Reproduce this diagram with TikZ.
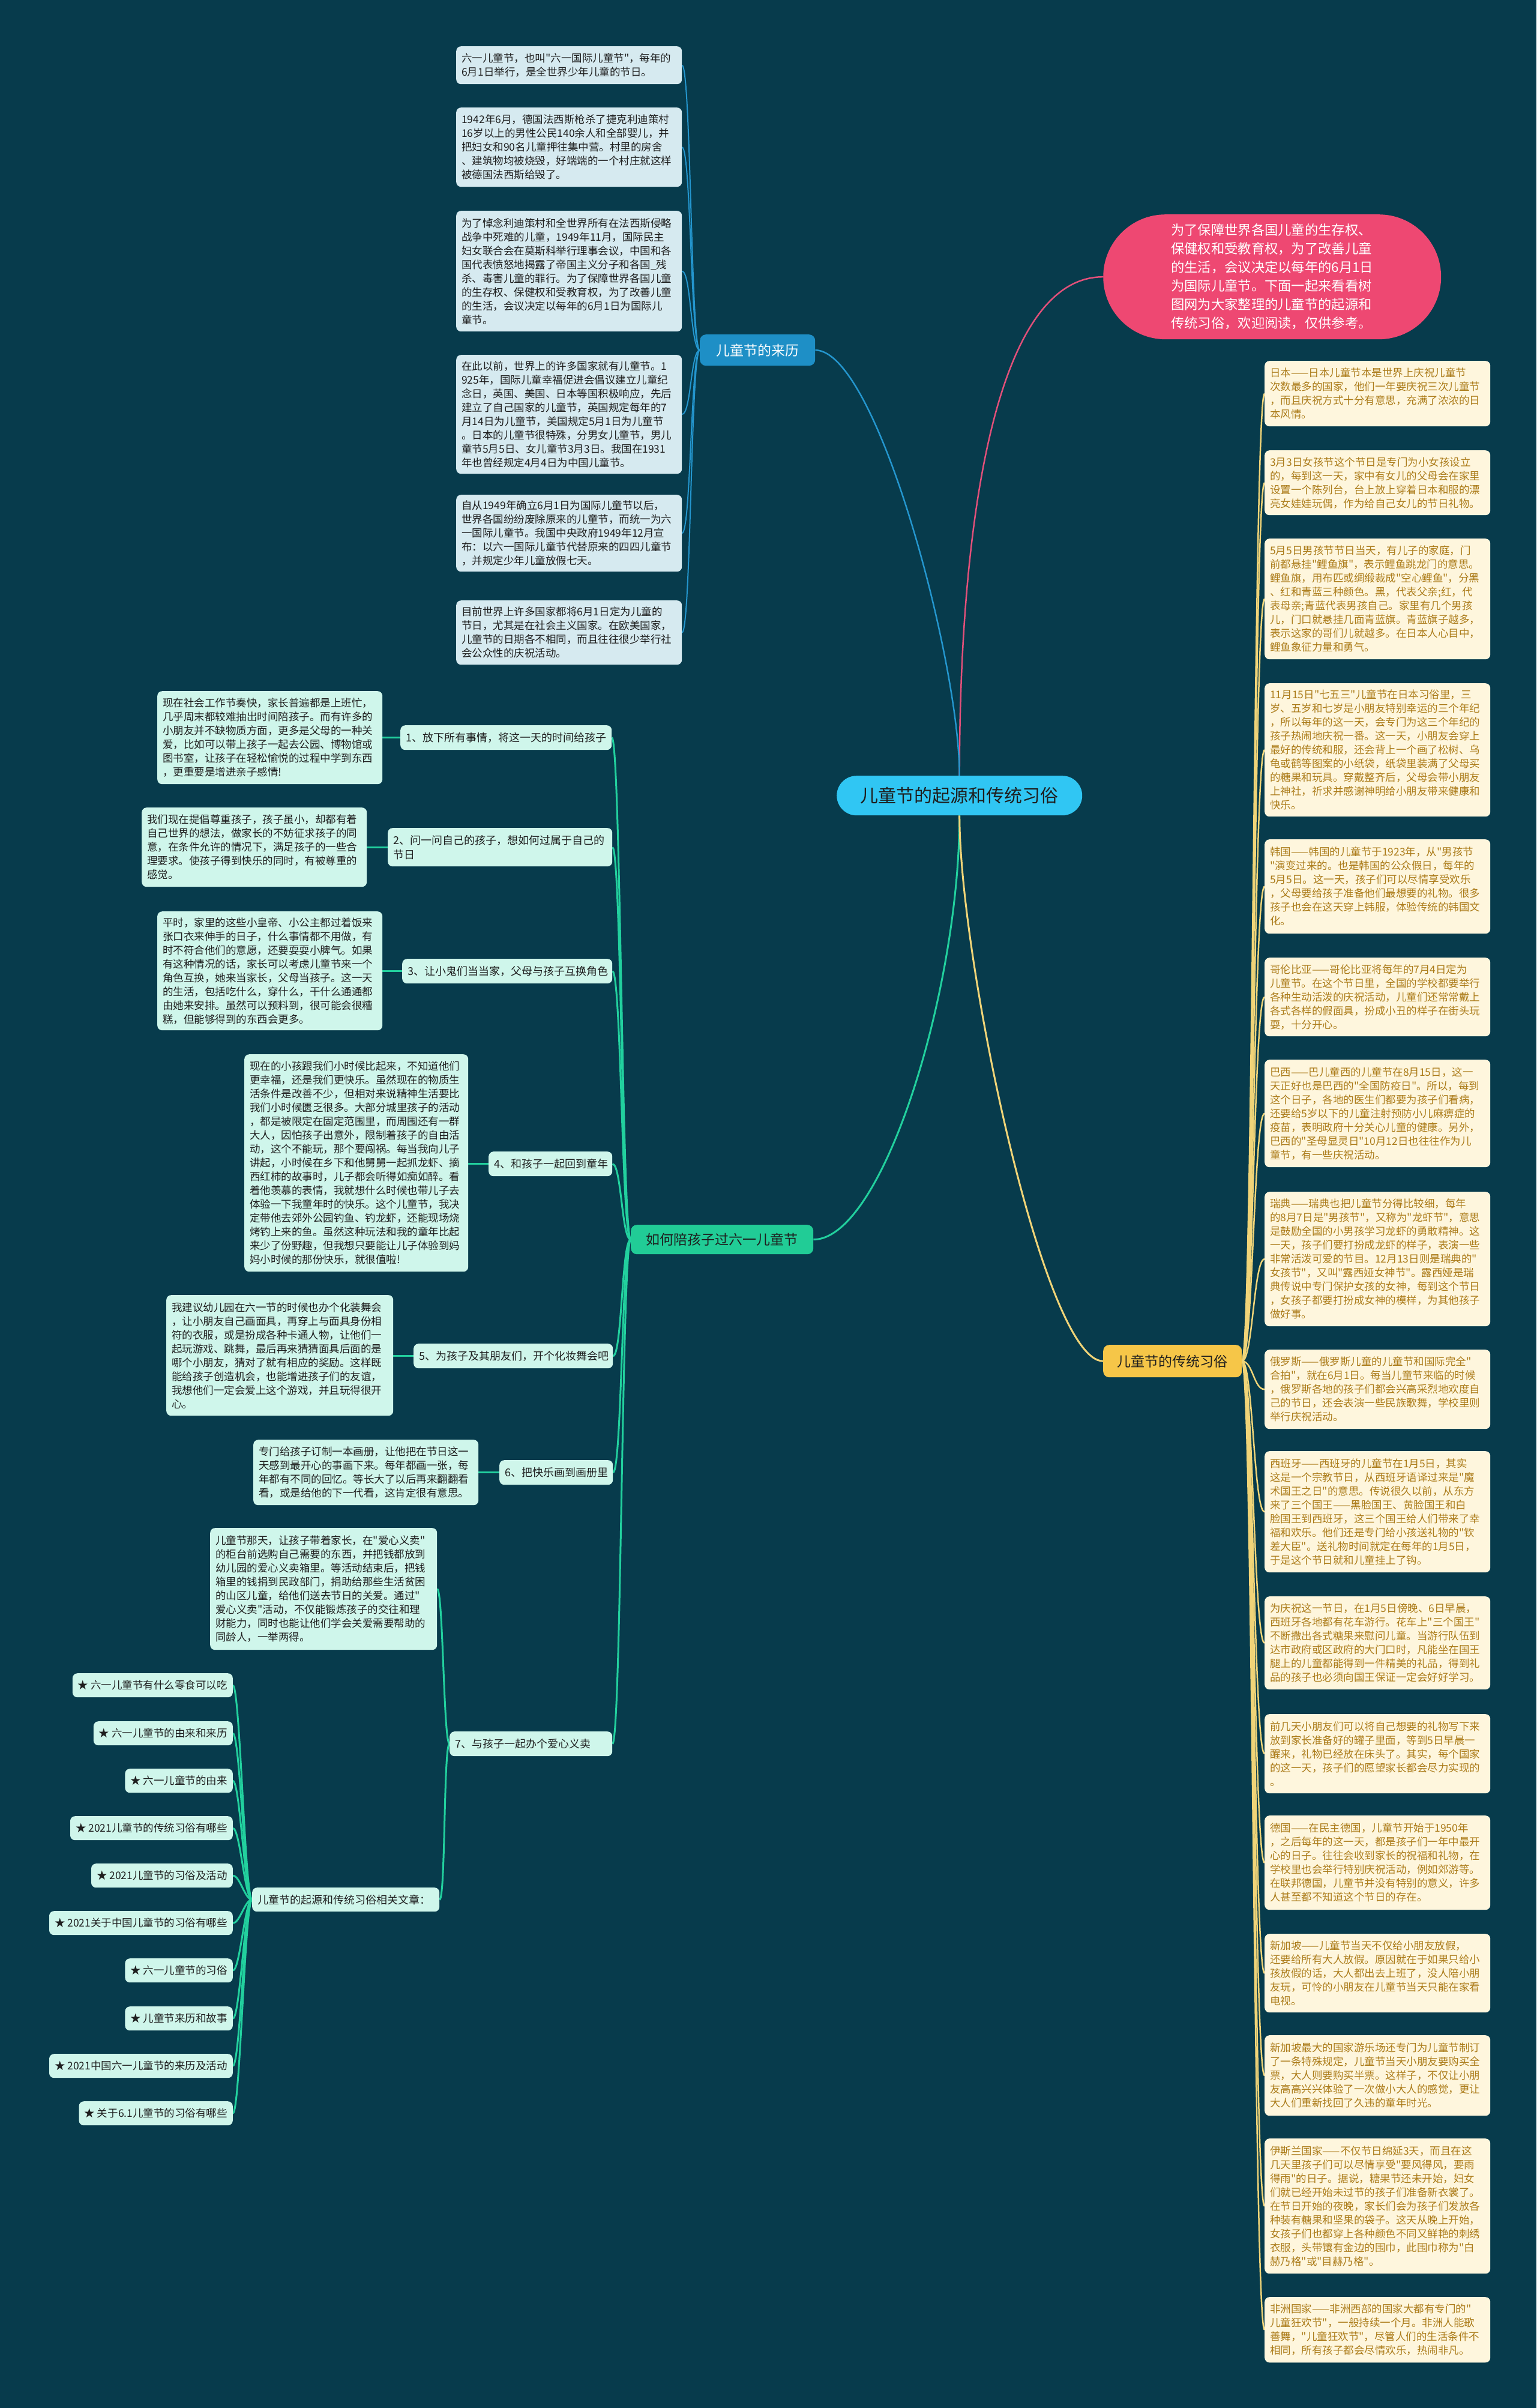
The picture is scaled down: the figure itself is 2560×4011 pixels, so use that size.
\documentclass[tikz,border=0pt]{standalone}
\usepackage{fontspec}
\setmainfont{Noto Sans CJK SC}[Ligatures=TeXOff]
\usetikzlibrary{calc}
\definecolor{bgc}{RGB}{7,59,76}
\definecolor{bluefill}{RGB}{214,234,240}
\definecolor{bluelinec}{RGB}{36,150,206}
\definecolor{bluehubc}{RGB}{30,143,198}
\definecolor{greenfill}{RGB}{207,246,235}
\definecolor{greenlinec}{RGB}{34,208,158}
\definecolor{greenhubc}{RGB}{33,204,150}
\definecolor{yellowfill}{RGB}{254,246,221}
\definecolor{yellowlinec}{RGB}{240,212,120}
\definecolor{yellowhubc}{RGB}{246,198,72}
\definecolor{goldtext}{RGB}{172,124,26}
\definecolor{pinkfill}{RGB}{238,72,114}
\definecolor{pinklinec}{RGB}{226,80,122}
\definecolor{ctrfill}{RGB}{48,198,243}
\definecolor{darktext}{RGB}{30,30,30}
\pgfdeclarelayer{bg}
\pgfsetlayers{bg,main}
\begin{document}
\begin{tikzpicture}[x=1pt,y=-1pt,
  box/.style={anchor=north west, rounded corners=8pt, inner xsep=9pt, inner ysep=3pt, align=left, font=\fontsize{17.5}{23}\selectfont},
  bluebox/.style={box, fill=bluefill, text=darktext},
  greenbox/.style={box, fill=greenfill, text=darktext},
  gnode/.style={greenbox, font=\fontsize{18}{24}\selectfont},
  starbox/.style={greenbox, anchor=north east, minimum height=40pt},
  yellowbox/.style={box, fill=yellowfill, text=goldtext},
  hub/.style={anchor=north west, rounded corners=10pt, align=center, inner sep=0pt, font=\fontsize{23}{28}\selectfont},
  eblue/.style={draw=bluelinec, line width=2pt},
  egreen/.style={draw=greenlinec, line width=3pt},
  eyellow/.style={draw=yellowlinec, line width=2.5pt},
  epink/.style={draw=pinklinec, line width=2.5pt}]
\begin{pgfonlayer}{bg}
\fill[bgc] (0,0) rectangle (2560,4011);
\end{pgfonlayer}
\useasboundingbox (0,0) rectangle (2560,4011);

% center and top
\node[anchor=north west, fill=ctrfill, text=darktext, rounded corners=33pt, minimum width=409pt, minimum height=66pt, inner sep=0pt, font=\fontsize{30}{36}\selectfont] (ctr) at (1394,1292) {儿童节的起源和传统习俗};
\node[anchor=north west, fill=pinkfill, text=white, rounded corners=104pt, minimum width=563pt, minimum height=208pt, inner sep=0pt, align=left, font=\fontsize{22.3}{31}\selectfont] (pink) at (1838,357) {为了保障世界各国儿童的生存权、\\保健权和受教育权，为了改善儿童\\的生活，会议决定以每年的6月1日\\为国际儿童节。下面一起来看看树\\图网为大家整理的儿童节的起源和\\传统习俗，欢迎阅读，仅供参考。};

% hubs
\node[hub, fill=bluehubc, text=white, minimum width=192pt, minimum height=52pt] (bhub) at (1166,557) {儿童节的来历};
\node[hub, fill=greenhubc, text=darktext, minimum width=304pt, minimum height=49pt] (ghub) at (1051,2040) {如何陪孩子过六一儿童节};
\node[hub, fill=yellowhubc, text=darktext, minimum width=231pt, minimum height=54pt] (yhub) at (1838,2240) {儿童节的传统习俗};

% blue leaves
\node[bluebox, text width=358pt, minimum height=63pt] (b1) at (760,77) {六一儿童节，也叫"六一国际儿童节"，每年的\\6月1日举行，是全世界少年儿童的节日。};
\node[bluebox, text width=358pt, minimum height=132pt] (b2) at (760,179) {1942年6月，德国法西斯枪杀了捷克利迪策村\\16岁以上的男性公民140余人和全部婴儿，并\\把妇女和90名儿童押往集中营。村里的房舍\\、建筑物均被烧毁，好端端的一个村庄就这样\\被德国法西斯给毁了。};
\node[bluebox, text width=358pt, minimum height=201pt] (b3) at (760,351) {为了悼念利迪策村和全世界所有在法西斯侵略\\战争中死难的儿童，1949年11月，国际民主\\妇女联合会在莫斯科举行理事会议，中国和各\\国代表愤怒地揭露了帝国主义分子和各国\_残\\杀、毒害儿童的罪行。为了保障世界各国儿童\\的生存权、保健权和受教育权，为了改善儿童\\的生活，会议决定以每年的6月1日为国际儿\\童节。};
\node[bluebox, text width=358pt, minimum height=198pt] (b4) at (760,591) {在此以前，世界上的许多国家就有儿童节。1\\925年，国际儿童幸福促进会倡议建立儿童纪\\念日，英国、美国、日本等国积极响应，先后\\建立了自己国家的儿童节，英国规定每年的7\\月14日为儿童节，美国规定5月1日为儿童节\\。日本的儿童节很特殊，分男女儿童节，男儿\\童节5月5日、女儿童节3月3日。我国在1931\\年也曾经规定4月4日为中国儿童节。};
\node[bluebox, text width=358pt, minimum height=128pt] (b5) at (760,824) {自从1949年确立6月1日为国际儿童节以后，\\世界各国纷纷废除原来的儿童节，而统一为六\\一国际儿童节。我国中央政府1949年12月宣\\布：以六一国际儿童节代替原来的四四儿童节\\，并规定少年儿童放假七天。};
\node[bluebox, text width=358pt, minimum height=107pt] (b6) at (760,1000) {目前世界上许多国家都将6月1日定为儿童的\\节日，尤其是在社会主义国家。在欧美国家，\\儿童节的日期各不相同，而且往往很少举行社\\会公众性的庆祝活动。};

% green sub nodes
\node[gnode, text width=334pt, minimum height=41pt] (g1) at (667,1208) {1、放下所有事情，将这一天的时间给孩子};
\node[gnode, text width=356pt, minimum height=64pt] (g2) at (646,1379) {2、问一问自己的孩子，想如何过属于自己的\\节日};
\node[gnode, text width=332pt, minimum height=41pt] (g3) at (670,1597) {3、让小鬼们当当家，父母与孩子互换角色};
\node[gnode, text width=188pt, minimum height=41pt] (g4) at (814,1918) {4、和孩子一起回到童年};
\node[gnode, text width=314pt, minimum height=41pt] (g5) at (689,2238) {5、为孩子及其朋友们，开个化妆舞会吧};
\node[gnode, text width=171pt, minimum height=41pt] (g6) at (832,2432) {6、把快乐画到画册里};
\node[gnode, text width=253pt, minimum height=41pt] (g7) at (749,2884) {7、与孩子一起办个爱心义卖};
\node[gnode, text width=294pt, minimum height=40pt] (g8) at (420,3144) {儿童节的起源和传统习俗相关文章：};

% green leaves
\node[greenbox, text width=357pt, minimum height=155pt] (gl1) at (262,1151) {现在社会工作节奏快，家长普遍都是上班忙，\\几乎周末都较难抽出时间陪孩子。而有许多的\\小朋友并不缺物质方面，更多是父母的一种关\\爱，比如可以带上孩子一起去公园、博物馆或\\图书室，让孩子在轻松愉悦的过程中学到东西\\，更重要是增进亲子感情!};
\node[greenbox, text width=357pt, minimum height=132pt] (gl2) at (236,1345) {我们现在提倡尊重孩子，孩子虽小，却都有着\\自己世界的想法，做家长的不妨征求孩子的同\\意，在条件允许的情况下，满足孩子的一些合\\理要求。使孩子得到快乐的同时，有被尊重的\\感觉。};
\node[greenbox, text width=357pt, minimum height=198pt] (gl3) at (262,1518) {平时，家里的这些小皇帝、小公主都过着饭来\\张口衣来伸手的日子，什么事情都不用做，有\\时不符合他们的意愿，还要耍耍小脾气。如果\\有这种情况的话，家长可以考虑儿童节来一个\\角色互换，她来当家长，父母当孩子。这一天\\的生活，包括吃什么，穿什么，干什么通通都\\由她来安排。虽然可以预料到，很可能会很糟\\糕，但能够得到的东西会更多。};
\node[greenbox, text width=355pt, minimum height=362pt] (gl4) at (407,1756) {现在的小孩跟我们小时候比起来，不知道他们\\更幸福，还是我们更快乐。虽然现在的物质生\\活条件是改善不少，但相对来说精神生活要比\\我们小时候匮乏很多。大部分城里孩子的活动\\，都是被限定在固定范围里，而周围还有一群\\大人，因怕孩子出意外，限制着孩子的自由活\\动，这个不能玩，那个要闯祸。每当我向儿子\\讲起，小时候在乡下和他舅舅一起抓龙虾、摘\\西红柿的故事时，儿子都会听得如痴如醉。看\\着他羡慕的表情，我就想什么时候也带儿子去\\体验一下我童年时的快乐。这个儿童节，我决\\定带他去郊外公园钓鱼、钓龙虾，还能现场烧\\烤钓上来的鱼。虽然这种玩法和我的童年比起\\来少了份野趣，但我想只要能让儿子体验到妈\\妈小时候的那份快乐，就很值啦!};
\node[greenbox, text width=360pt, minimum height=201pt] (gl5) at (277,2157) {我建议幼儿园在六一节的时候也办个化装舞会\\，让小朋友自己画面具，再穿上与面具身份相\\符的衣服，或是扮成各种卡通人物，让他们一\\起玩游戏、跳舞，最后再来猜猜面具后面的是\\哪个小朋友，猜对了就有相应的奖励。这样既\\能给孩子创造机会，也能增进孩子们的友谊，\\我想他们一定会爱上这个游戏，并且玩得很开\\心。};
\node[greenbox, text width=357pt, minimum height=109pt] (gl6) at (422,2398) {专门给孩子订制一本画册，让他把在节日这一\\天感到最开心的事画下来。每年都画一张，每\\年都有不同的回忆。等长大了以后再来翻翻看\\看，或是给他的下一代看，这肯定很有意思。};
\node[greenbox, text width=360pt, minimum height=203pt] (gl7) at (350,2545) {儿童节那天，让孩子带着家长，在"爱心义卖"\\的柜台前选购自己需要的东西，并把钱都放到\\幼儿园的爱心义卖箱里。等活动结束后，把钱\\箱里的钱捐到民政部门，捐助给那些生活贫困\\的山区儿童，给他们送去节日的关爱。通过"\\爱心义卖"活动，不仅能锻炼孩子的交往和理\\财能力，同时也能让他们学会关爱需要帮助的\\同龄人，一举两得。};

% star items
\node[starbox] (s1) at (388,2787) {★ 六一儿童节有什么零食可以吃};
\node[starbox] (s2) at (388,2867) {★ 六一儿童节的由来和来历};
\node[starbox] (s3) at (388,2946) {★ 六一儿童节的由来};
\node[starbox] (s4) at (388,3025) {★ 2021儿童节的传统习俗有哪些};
\node[starbox] (s5) at (388,3104) {★ 2021儿童节的习俗及活动};
\node[starbox] (s6) at (388,3183) {★ 2021关于中国儿童节的习俗有哪些};
\node[starbox] (s7) at (388,3262) {★ 六一儿童节的习俗};
\node[starbox] (s8) at (388,3342) {★ 儿童节来历和故事};
\node[starbox] (s9) at (388,3421) {★ 2021中国六一儿童节的来历及活动};
\node[starbox] (s10) at (388,3500) {★ 关于6.1儿童节的习俗有哪些};

% yellow leaves
\node[yellowbox, text width=358pt, minimum height=109pt] (r1) at (2107,601) {日本——日本儿童节本是世界上庆祝儿童节\\次数最多的国家，他们一年要庆祝三次儿童节\\，而且庆祝方式十分有意思，充满了浓浓的日\\本风情。};
\node[yellowbox, text width=358pt, minimum height=108pt] (r2) at (2107,750) {3月3日女孩节这个节日是专门为小女孩设立\\的，每到这一天，家中有女儿的父母会在家里\\设置一个陈列台，台上放上穿着日本和服的漂\\亮女娃娃玩偶，作为给自己女儿的节日礼物。};
\node[yellowbox, text width=358pt, minimum height=201pt] (r3) at (2107,897) {5月5日男孩节节日当天，有儿子的家庭，门\\前都悬挂"鲤鱼旗"，表示鲤鱼跳龙门的意思。\\鲤鱼旗，用布匹或绸缎裁成"空心鲤鱼"，分黑\\、红和青蓝三种颜色。黑，代表父亲;红，代\\表母亲;青蓝代表男孩自己。家里有几个男孩\\儿，门口就悬挂几面青蓝旗。青蓝旗子越多，\\表示这家的哥们儿就越多。在日本人心目中，\\鲤鱼象征力量和勇气。};
\node[yellowbox, text width=358pt, minimum height=222pt] (r4) at (2107,1138) {11月15日"七五三"儿童节在日本习俗里，三\\岁、五岁和七岁是小朋友特别幸运的三个年纪\\，所以每年的这一天，会专门为这三个年纪的\\孩子热闹地庆祝一番。这一天，小朋友会穿上\\最好的传统和服，还会背上一个画了松树、乌\\龟或鹤等图案的小纸袋，纸袋里装满了父母买\\的糖果和玩具。穿戴整齐后，父母会带小朋友\\上神社，祈求并感谢神明给小朋友带来健康和\\快乐。};
\node[yellowbox, text width=358pt, minimum height=157pt] (r5) at (2107,1398) {韩国——韩国的儿童节于1923年，从"男孩节\\"演变过来的。也是韩国的公众假日，每年的\\5月5日。这一天，孩子们可以尽情享受欢乐\\，父母要给孩子准备他们最想要的礼物。很多\\孩子也会在这天穿上韩服，体验传统的韩国文\\化。};
\node[yellowbox, text width=358pt, minimum height=131pt] (r6) at (2107,1595) {哥伦比亚——哥伦比亚将每年的7月4日定为\\儿童节。在这个节日里，全国的学校都要举行\\各种生动活泼的庆祝活动，儿童们还常常戴上\\各式各样的假面具，扮成小丑的样子在街头玩\\耍，十分开心。};
\node[yellowbox, text width=358pt, minimum height=179pt] (r7) at (2107,1765) {巴西——巴儿童西的儿童节在8月15日，这一\\天正好也是巴西的"全国防疫日"。所以，每到\\这个日子，各地的医生们都要为孩子们看病，\\还要给5岁以下的儿童注射预防小儿麻痹症的\\疫苗，表明政府十分关心儿童的健康。另外，\\巴西的"圣母显灵日"10月12日也往往作为儿\\童节，有一些庆祝活动。};
\node[yellowbox, text width=358pt, minimum height=224pt] (r8) at (2107,1985) {瑞典——瑞典也把儿童节分得比较细，每年\\的8月7日是"男孩节"，又称为"龙虾节"，意思\\是鼓励全国的小男孩学习龙虾的勇敢精神。这\\一天，孩子们要打扮成龙虾的样子，表演一些\\非常活泼可爱的节目。12月13日则是瑞典的"\\女孩节"，又叫"露西娅女神节"。露西娅是瑞\\典传说中专门保护女孩的女神，每到这个节日\\，女孩子都要打扮成女神的模样，为其他孩子\\做好事。};
\node[yellowbox, text width=358pt, minimum height=132pt] (r9) at (2107,2248) {俄罗斯——俄罗斯儿童的儿童节和国际完全"\\合拍"，就在6月1日。每当儿童节来临的时候\\，俄罗斯各地的孩子们都会兴高采烈地欢度自\\己的节日，还会表演一些民族歌舞，学校里则\\举行庆祝活动。};
\node[yellowbox, text width=358pt, minimum height=202pt] (r10) at (2107,2417) {西班牙——西班牙的儿童节在1月5日，其实\\这是一个宗教节日，从西班牙语译过来是"魔\\术国王之日"的意思。传说很久以前，从东方\\来了三个国王——黑脸国王、黄脸国王和白\\脸国王到西班牙，这三个国王给人们带来了幸\\福和欢乐。他们还是专门给小孩送礼物的"钦\\差大臣"。送礼物时间就定在每年的1月5日，\\于是这个节日就和儿童挂上了钩。};
\node[yellowbox, text width=358pt, minimum height=155pt] (r11) at (2107,2659) {为庆祝这一节日，在1月5日傍晚、6日早晨，\\西班牙各地都有花车游行。花车上"三个国王"\\不断撒出各式糖果来慰问儿童。当游行队伍到\\达市政府或区政府的大门口时，凡能坐在国王\\腿上的儿童都能得到一件精美的礼品，得到礼\\品的孩子也必须向国王保证一定会好好学习。};
\node[yellowbox, text width=358pt, minimum height=132pt] (r12) at (2107,2855) {前几天小朋友们可以将自己想要的礼物写下来\\放到家长准备好的罐子里面，等到5日早晨一\\醒来，礼物已经放在床头了。其实，每个国家\\的这一天，孩子们的愿望家长都会尽力实现的\\。};
\node[yellowbox, text width=358pt, minimum height=157pt] (r13) at (2107,3024) {德国——在民主德国，儿童节开始于1950年\\，之后每年的这一天，都是孩子们一年中最开\\心的日子。往往会收到家长的祝福和礼物，在\\学校里也会举行特别庆祝活动，例如郊游等。\\在联邦德国，儿童节并没有特别的意义，许多\\人甚至都不知道这个节日的存在。};
\node[yellowbox, text width=358pt, minimum height=131pt] (r14) at (2107,3221) {新加坡——儿童节当天不仅给小朋友放假，\\还要给所有大人放假。原因就在于如果只给小\\孩放假的话，大人都出去上班了，没人陪小朋\\友玩，可怜的小朋友在儿童节当天只能在家看\\电视。};
\node[yellowbox, text width=358pt, minimum height=134pt] (r15) at (2107,3390) {新加坡最大的国家游乐场还专门为儿童节制订\\了一条特殊规定，儿童节当天小朋友要购买全\\票，大人则要购买半票。这样子，不仅让小朋\\友高高兴兴体验了一次做小大人的感觉，更让\\大人们重新找回了久违的童年时光。};
\node[yellowbox, text width=358pt, minimum height=225pt] (r16) at (2107,3562) {伊斯兰国家——不仅节日绵延3天，而且在这\\几天里孩子们可以尽情享受"要风得风，要雨\\得雨"的日子。据说，糖果节还未开始，妇女\\们就已经开始未过节的孩子们准备新衣裳了。\\在节日开始的夜晚，家长们会为孩子们发放各\\种装有糖果和坚果的袋子。这天从晚上开始，\\女孩子们也都穿上各种颜色不同又鲜艳的刺绣\\衣服，头带镶有金边的围巾，此围巾称为"白\\赫乃格"或"目赫乃格"。};
\node[yellowbox, text width=358pt, minimum height=109pt] (r17) at (2107,3826) {非洲国家——非洲西部的国家大都有专门的"\\儿童狂欢节"，一般持续一个月。非洲人能歌\\善舞，"儿童狂欢节"，尽管人们的生活条件不\\相同，所有孩子都会尽情欢乐，热闹非凡。};

\begin{pgfonlayer}{bg}
% center connectors
\draw[epink] (ctr.north) .. controls +(0,-420) and +(-180,0) .. (pink.west);
\draw[eblue, line width=2.5pt] (ctr.north) .. controls +(0,-192) and +(102,0) .. (bhub.east);
\draw[egreen] (ctr.south) .. controls +(0,292) and +(115,0) .. (ghub.east);
\draw[eyellow, line width=3pt] (ctr.south) .. controls +(0,242) and +(-98,0) .. (yhub.west);
% blue
\foreach \n in {b1,b2,b3,b4,b5,b6}
  \draw[eblue] (bhub.west) .. controls +(-15,0) and +(15,0) .. (\n.east);
% yellow
\foreach \n in {r1,r2,r3,r4,r5,r6,r7,r8,r9,r10,r11,r12,r13,r14,r15,r16,r17}
  \draw[eyellow] (yhub.east) .. controls +(18,0) and +(-18,0) .. (\n.west);
% green
\foreach \n in {g1,g2,g3,g4,g5,g6,g7}
  \draw[egreen] (ghub.west) .. controls +(-15,0) and +(15,0) .. (\n.east);
\foreach \a/\b in {g1/gl1,g2/gl2,g3/gl3,g4/gl4,g5/gl5,g6/gl6}
  \draw[egreen] (\a.west) -- (\a.west -| \b.east);
\draw[egreen] (g7.west) .. controls +(-10,0) and +(10,0) .. (gl7.east);
\draw[egreen] (g7.west) .. controls +(-10,0) and +(10,0) .. (g8.east);
\foreach \n in {s1,s2,s3,s4,s5,s6,s7,s8,s9,s10}
  \draw[egreen] (g8.west) .. controls +(-12,0) and +(12,0) .. (\n.east);
\end{pgfonlayer}
\end{tikzpicture}
\end{document}
